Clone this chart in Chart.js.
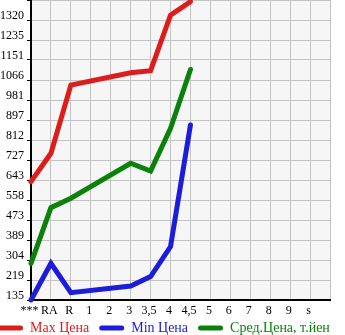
<!DOCTYPE html>
<html>
<head>
<meta charset="utf-8">
<script src="https://cdn.jsdelivr.net/npm/chart.js@4/dist/chart.umd.min.js"></script>
<style>
  html, body { margin: 0; padding: 0; background: #ffffff; }
  #wrap { width: 345px; height: 335px; position: relative; }
</style>
</head>
<body>
<div id="wrap"><canvas id="c" width="345" height="335"></canvas></div>
<script>
// ---- data ----
const categories = ['***', 'RA', 'R', '1', '2', '3', '3,5', '4', '4,5', '5', '6', '7', '8', '9', 's', ''];
const maxPrice = [636, 756, 1045, null, null, 1097, 1106, 1341, 1398, null, null, null, null, null, null, null];
const minPrice = [135, 290, 166, null, null, 194, 234, 361, 876, null, null, null, null, null, null, null];
const avgPrice = [290, 526, 566, null, null, 714, 681, 862, 1111, null, null, null, null, null, null, null];
const yTickValues = [135, 219, 304, 389, 473, 558, 643, 727, 812, 897, 981, 1066, 1151, 1235, 1320, 1405];
const yTickLabels = ['135', '219', '304', '389', '473', '558', '643', '727', '812', '897', '981', '1066', '1151', '1235', '1320', ''];
const seriesNames = ['Max Цена', 'Min Цена', 'Сред.Цена, т.йен'];
const seriesColors = ['#dd1c1c', '#1c1cdc', '#0a820a'];

const FONT = '"Liberation Serif", "DejaVu Serif", serif';

const bgPlugin = {
  id: 'plotBg',
  beforeDraw(chart) {
    const a = chart.chartArea;
    const ctx = chart.ctx;
    ctx.save();
    ctx.fillStyle = '#f6f6f6';
    ctx.fillRect(a.left, a.top, a.right - a.left, a.bottom - a.top);
    ctx.restore();
  }
};

function mkDataset(i, data) {
  return {
    label: seriesNames[i],
    data: data,
    borderColor: seriesColors[i],
    backgroundColor: seriesColors[i],
    borderWidth: 5,
    borderCapStyle: 'round',
    borderJoinStyle: 'miter',
    pointRadius: 0,
    pointHoverRadius: 0,
    tension: 0,
    spanGaps: true,
    fill: false,
    clip: false
  };
}

new Chart(document.getElementById('c'), {
  type: 'line',
  data: {
    labels: categories,
    datasets: [mkDataset(0, maxPrice), mkDataset(1, minPrice), mkDataset(2, avgPrice)]
  },
  plugins: [bgPlugin],
  options: {
    responsive: false,
    animation: false,
    events: [],
    layout: { padding: { left: -12, right: 0, top: 0, bottom: 0 } },
    plugins: {
      tooltip: { enabled: false },
      legend: {
        position: 'bottom',
        align: 'start',
        maxHeight: 24,
        labels: {
          boxWidth: 25,
          boxHeight: 5,
          padding: 10,
          font: { family: FONT, size: 14 },
          useBorderRadius: true,
          generateLabels(chart) {
            return seriesNames.map((n, i) => ({
              text: n,
              fillStyle: seriesColors[i],
              strokeStyle: seriesColors[i],
              lineWidth: 0,
              fontColor: seriesColors[i],
              borderRadius: 2.5,
              datasetIndex: i,
              hidden: false
            }));
          }
        }
      }
    },
    scales: {
      x: {
        type: 'category',
        offset: false,
        afterFit(s) {
          s.height = 11;
          s.paddingLeft = 0; s.paddingRight = 0;
          s._computeLabelArea = () => undefined;
        },
        grid: { color: '#c4c4c4', lineWidth: 1, drawTicks: false, tickLength: 0 },
        border: { display: true, color: '#000000', width: 2 },
        ticks: {
          autoSkip: false,
          maxRotation: 0,
          padding: 4,
          labelOffset: -1.5,
          color: '#000000',
          font: { family: FONT, size: 12 }
        }
      },
      y: {
        type: 'linear',
        min: 135,
        max: 1405,
        afterFit(s) { s.width = 43; s.paddingTop = 0; s.paddingBottom = 0; },
        afterBuildTicks(s) { s.ticks = yTickValues.map(v => ({ value: v })); },
        grid: { color: '#c4c4c4', lineWidth: 1, drawTicks: true, tickLength: 4, tickColor: '#000000' },
        border: { display: true, color: '#000000', width: 2 },
        ticks: {
          padding: 3,
          labelOffset: -4,
          color: '#000000',
          font: { family: FONT, size: 12 },
          callback(v, i) { return yTickLabels[i]; }
        }
      },
      yRight: {
        type: 'linear',
        position: 'right',
        min: 135,
        max: 1405,
        afterFit(s) { s.width = 15; s.paddingTop = 0; s.paddingBottom = 0; },
        grid: { display: false, drawTicks: false },
        border: { display: false },
        ticks: { display: false }
      }
    }
  }
});
</script>
</body>
</html>
